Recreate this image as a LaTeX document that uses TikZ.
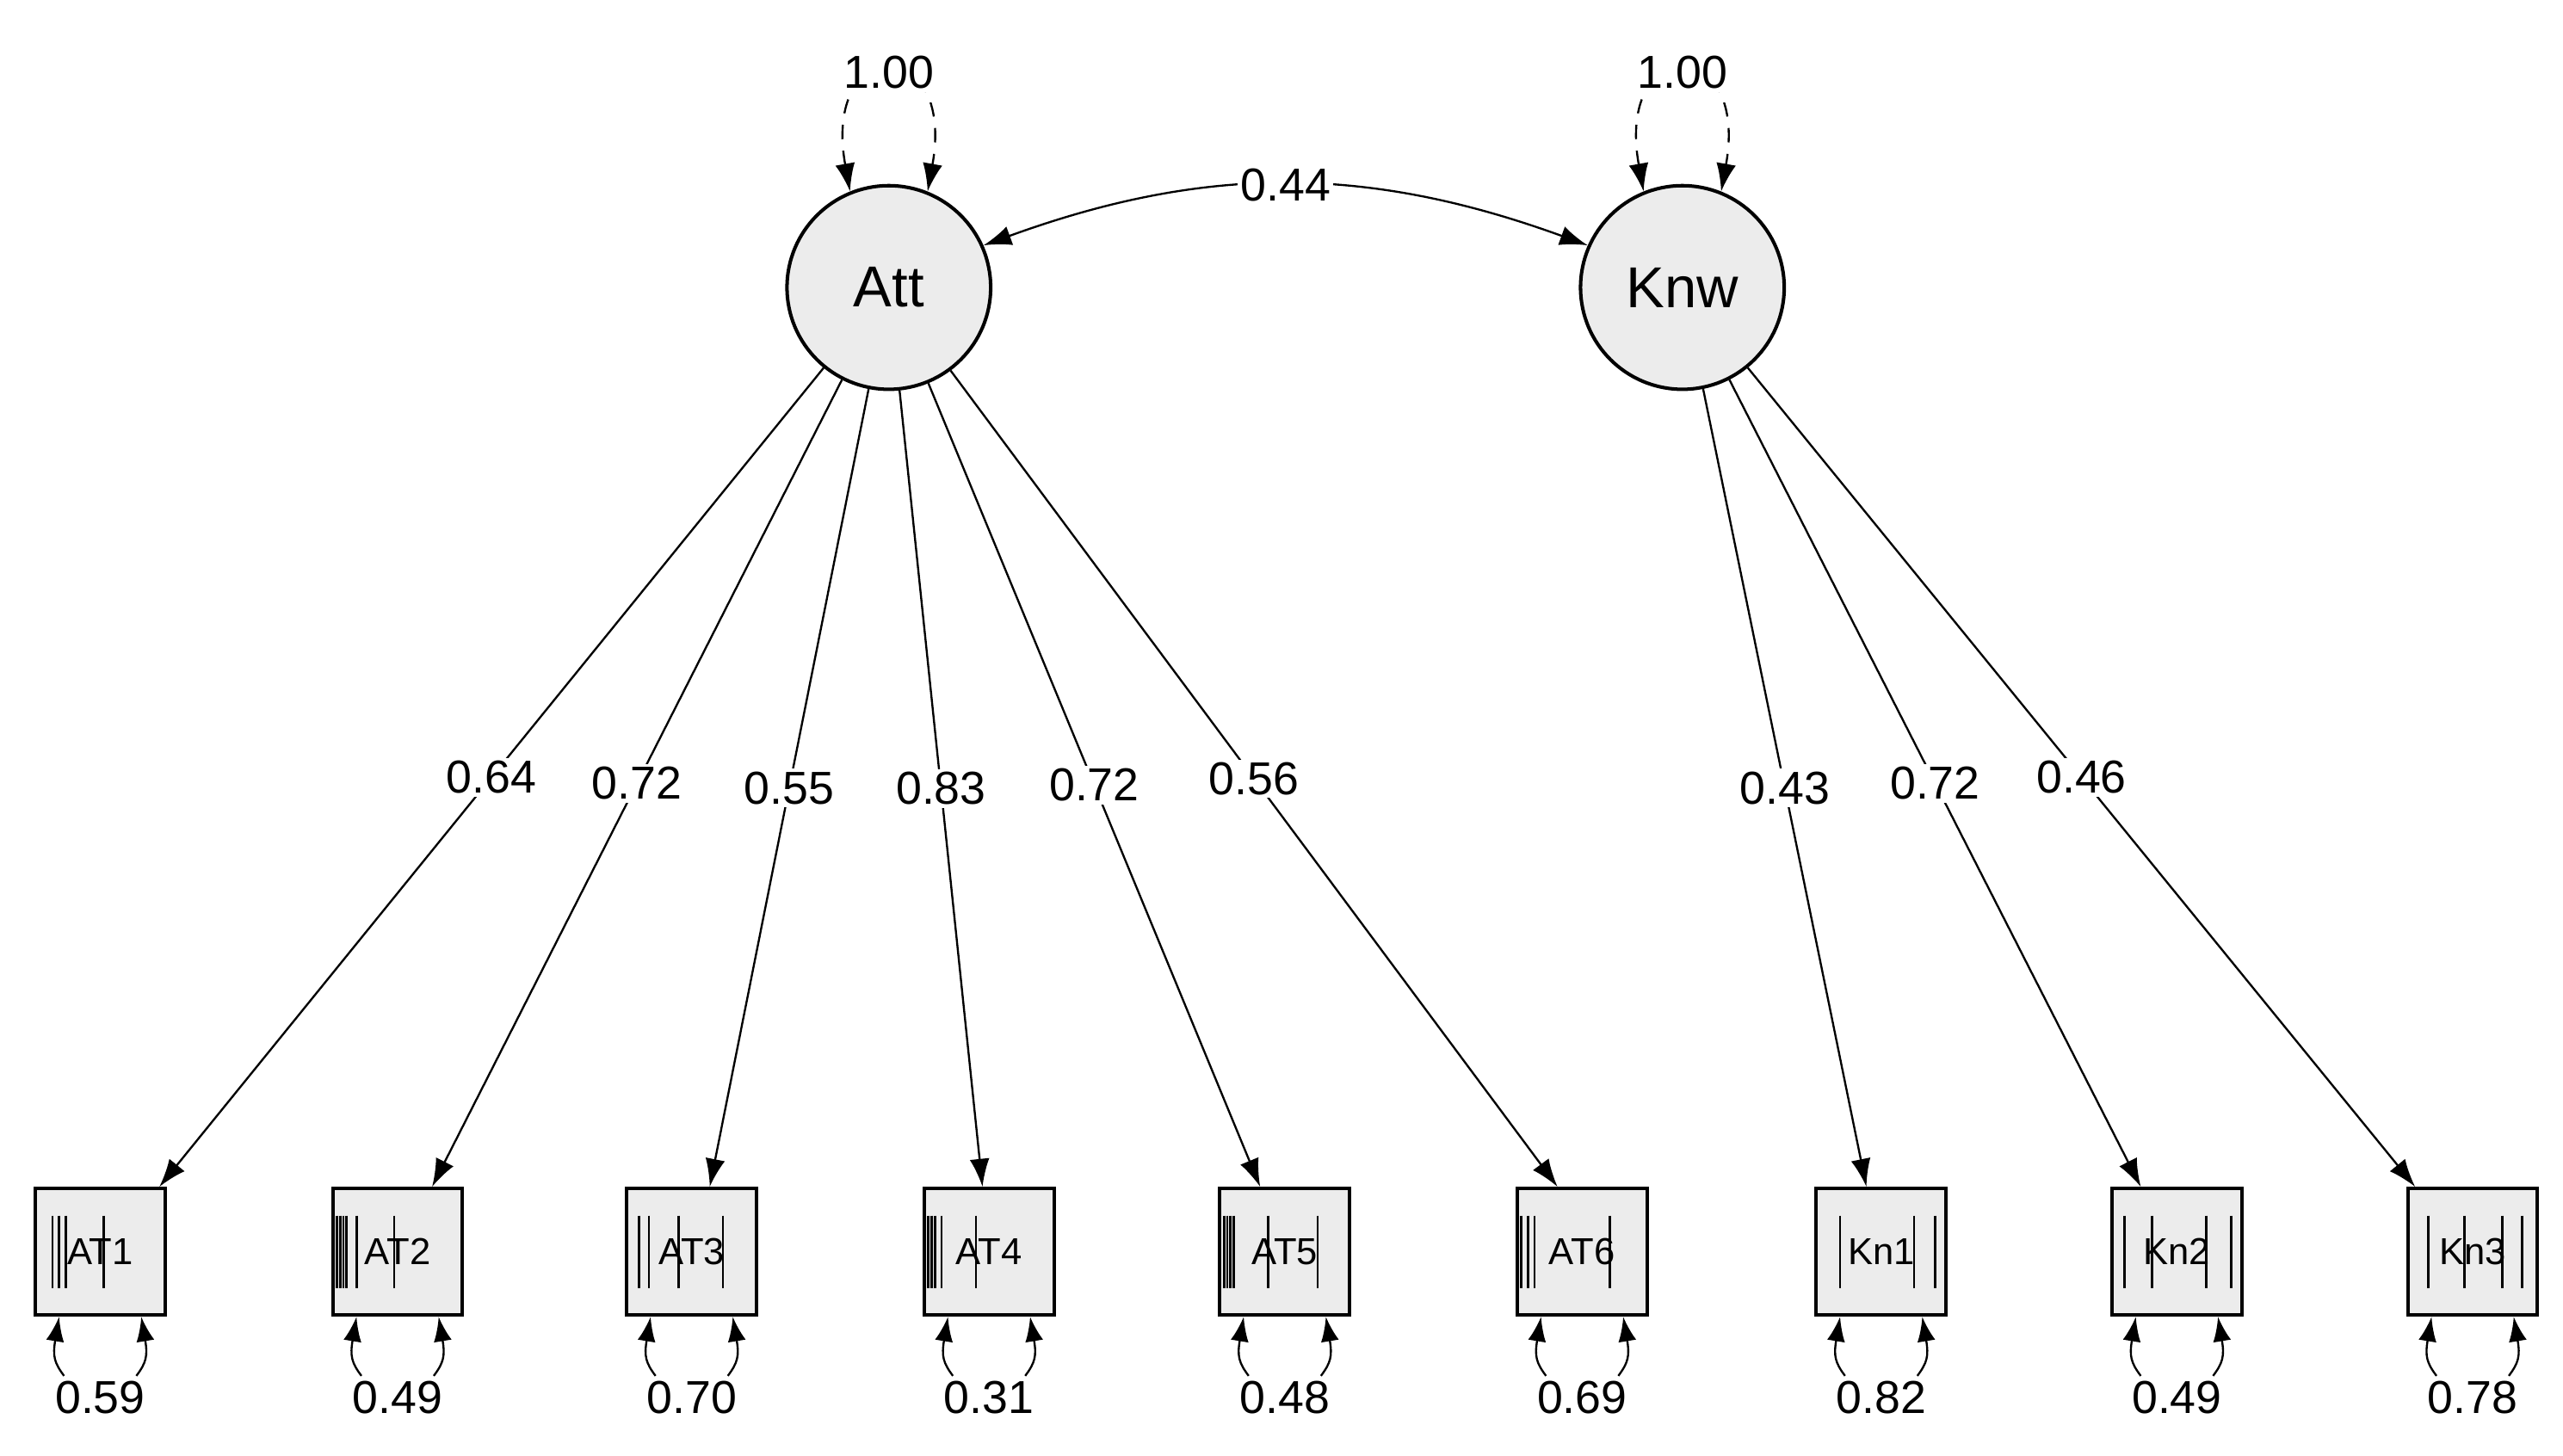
\documentclass[tikz,border=0pt]{standalone}
\usepackage{fontspec}
\setmainfont{Liberation Sans}
\usetikzlibrary{arrows.meta,calc}
\begin{document}
\begin{tikzpicture}[x=0.02cm,y=-0.02cm,
    latent/.style={circle, draw, line width=1.2pt, fill=gray!15, minimum size=2.48cm, inner sep=0pt, font=\fontsize{20}{22}\selectfont},
    manifest/.style={rectangle, draw, line width=1.2pt, fill=gray!15, minimum width=1.58cm, minimum height=1.54cm, inner sep=0pt, font=\fontsize{13}{14}\selectfont},
    tip/.style={-{Latex[length=0.34cm,width=0.24cm]}},
    load/.style={tip, line width=0.7pt},
    lbl/.style={fill=white, inner sep=1pt, font=\fontsize{16}{18}\selectfont},
    varl/.style={{Latex[length=0.34cm,width=0.24cm]}-{Latex[length=0.34cm,width=0.24cm]}, dashed, dash pattern=on 5pt off 4pt, line width=0.7pt},
    resid/.style={{Latex[length=0.3cm,width=0.22cm]}-, line width=0.7pt},
    bar/.style={line width=0.8pt}]
\useasboundingbox (0,0) rectangle (1560,886);

% latent variables
\node[latent] (att) at (541,175) {Att};
\node[latent] (knw) at (1024,175) {Knw};

% indicators
\foreach \n/\t/\x in {a1/AT1/61, a2/AT2/242, a3/AT3/421, a4/AT4/602, a5/AT5/782, a6/AT6/963, k1/Kn1/1145, k2/Kn2/1325, k3/Kn3/1505}
    \node[manifest] (\n) at (\x,762) {\t};

% threshold bars
\foreach \n/\offs in {a1/{-29,-25,-21,2}, a2/{-37,-35,-33,-31,-25,-2}, a3/{-32,-26,-8,19},
    a4/{-37,-35,-33,-29,-8}, a5/{-37,-35,-33,-31,-10,20}, a6/{-37,-33,-29,17},
    k1/{-25,20,33}, k2/{-32,-15,18,33}, k3/{-27,-5,18,30}}
    \foreach \o in \offs
        \draw[bar] ($(\n.center)+(\o,-22)$) -- ($(\n.center)+(\o,22)$);

% variances of latents
\draw[varl] (att.112) .. controls (500,20) and (582,20) .. node[lbl, pos=0.5] {1.00} (att.68);
\draw[varl] (knw.112) .. controls (983,20) and (1065,20) .. node[lbl, pos=0.5] {1.00} (knw.68);

% covariance
\draw[{Latex[length=0.34cm,width=0.24cm]}-{Latex[length=0.34cm,width=0.24cm]}, line width=0.7pt]
    (att.24) to[out=20, in=160] node[lbl, pos=0.5] {0.44} (knw.156);

% loadings
\foreach \n/\dx/\v in {a1/36/0.64, a2/21/0.72, a3/11/0.55, a4/-4/0.83, a5/-15/0.72, a6/-15/0.56}
    \draw[load] (att) -- node[lbl, pos=0.5] {\v} ([xshift=\dx*0.02cm]\n.north);
\foreach \n/\dx/\v in {k1/-9/0.43, k2/-22/0.72, k3/-35/0.46}
    \draw[load] (knw) -- node[lbl, pos=0.5] {\v} ([xshift=\dx*0.02cm]\n.north);

% residual variances
\foreach \n/\v in {a1/0.59, a2/0.49, a3/0.70, a4/0.31, a5/0.48, a6/0.69, k1/0.82, k2/0.49, k3/0.78} {
    \node[lbl, inner sep=0pt] (r\n) at ($(\n.south)+(0,49)$) {\v};
    \draw[resid] ($(\n.south)+(-25,0)$) .. controls +(-4,24) and +(-6,-8) .. ($(\n.south)+(-22,36)$);
    \draw[resid] ($(\n.south)+(25,0)$) .. controls +(4,24) and +(6,-8) .. ($(\n.south)+(22,36)$);
}
\end{tikzpicture}
\end{document}
